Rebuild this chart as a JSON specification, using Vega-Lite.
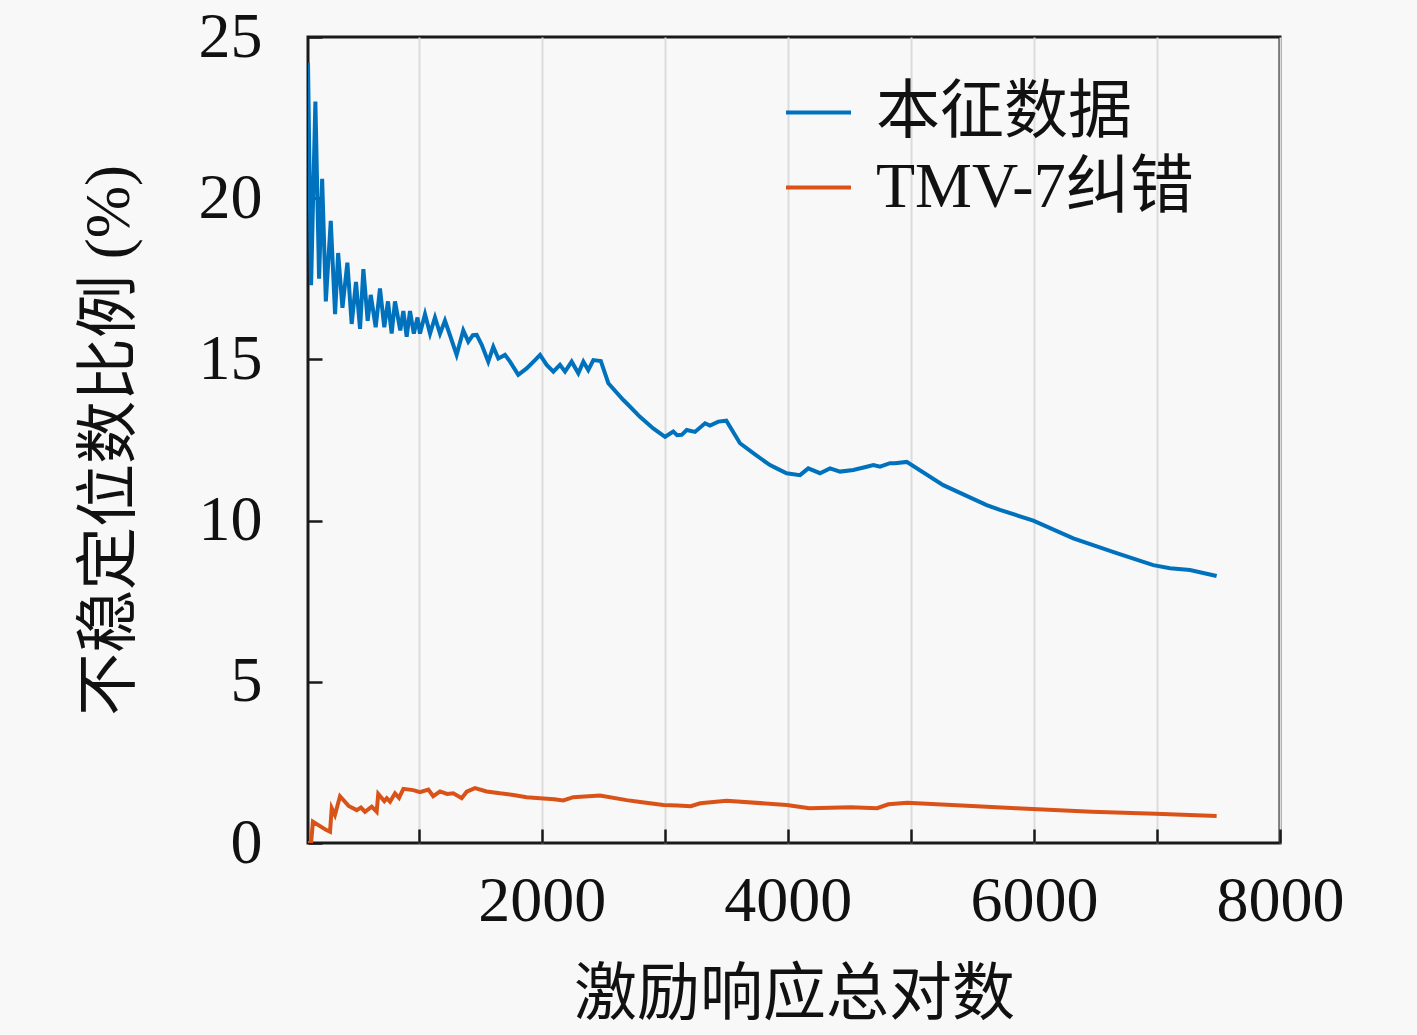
{
  "$schema": "https://vega.github.io/schema/vega-lite/v6.json",
  "autosize": {"type": "none"},
  "padding": {"left": 308, "top": 37, "right": 137, "bottom": 192},
  "width": 972,
  "height": 806,
  "background": "#f8f8f8",
  "config": {
    "view": {"fill": "#f8f8f8", "stroke": "#1a1a1a", "strokeWidth": 3},
    "font": "Liberation Serif, Noto Sans CJK SC",
    "axis": {
      "domain": false,
      "labelFont": "Liberation Serif",
      "labelFontSize": 64,
      "labelColor": "#111111",
      "titleFont": "Liberation Serif, Noto Sans CJK SC",
      "titleFontSize": 63,
      "titleFontWeight": "normal",
      "titleColor": "#111111",
      "tickColor": "#1a1a1a",
      "tickWidth": 2.5,
      "tickSize": -14
    },
    "legend": {
      "labelFont": "Liberation Serif, Noto Sans CJK SC",
      "labelFontSize": 64,
      "labelColor": "#111111",
      "labelLimit": 0
    }
  },
  "datasets": {
    "blue": [
      {"n": 100, "r": 24.2}, {"n": 125, "r": 17.3}, {"n": 160, "r": 23.0}, {"n": 190, "r": 17.5},
      {"n": 215, "r": 20.6}, {"n": 245, "r": 16.8}, {"n": 285, "r": 19.3}, {"n": 320, "r": 16.4},
      {"n": 345, "r": 18.3}, {"n": 380, "r": 16.6}, {"n": 420, "r": 18.0}, {"n": 455, "r": 16.1},
      {"n": 490, "r": 17.4}, {"n": 523, "r": 15.95}, {"n": 550, "r": 17.8}, {"n": 585, "r": 16.2},
      {"n": 610, "r": 17.0}, {"n": 650, "r": 16.0}, {"n": 685, "r": 17.2}, {"n": 720, "r": 16.0},
      {"n": 750, "r": 16.8}, {"n": 780, "r": 15.8}, {"n": 807, "r": 16.8}, {"n": 850, "r": 15.9},
      {"n": 875, "r": 16.5}, {"n": 902, "r": 15.7}, {"n": 929, "r": 16.5}, {"n": 960, "r": 15.8},
      {"n": 990, "r": 16.3}, {"n": 1010, "r": 15.8}, {"n": 1051, "r": 16.4}, {"n": 1092, "r": 15.8},
      {"n": 1132, "r": 16.3}, {"n": 1173, "r": 15.8}, {"n": 1213, "r": 16.2}, {"n": 1254, "r": 15.75},
      {"n": 1308, "r": 15.14}, {"n": 1362, "r": 15.9}, {"n": 1403, "r": 15.55}, {"n": 1440, "r": 15.75},
      {"n": 1471, "r": 15.76}, {"n": 1512, "r": 15.45}, {"n": 1565, "r": 14.93}, {"n": 1606, "r": 15.39},
      {"n": 1647, "r": 15.03}, {"n": 1701, "r": 15.14}, {"n": 1742, "r": 14.93}, {"n": 1809, "r": 14.52},
      {"n": 1877, "r": 14.72}, {"n": 1945, "r": 14.98}, {"n": 1986, "r": 15.14}, {"n": 2040, "r": 14.83},
      {"n": 2094, "r": 14.62}, {"n": 2148, "r": 14.83}, {"n": 2189, "r": 14.62}, {"n": 2243, "r": 14.93},
      {"n": 2297, "r": 14.57}, {"n": 2338, "r": 14.93}, {"n": 2378, "r": 14.67}, {"n": 2419, "r": 14.98},
      {"n": 2480, "r": 14.95}, {"n": 2541, "r": 14.26}, {"n": 2663, "r": 13.74}, {"n": 2700, "r": 13.6},
      {"n": 2798, "r": 13.22}, {"n": 2906, "r": 12.86}, {"n": 3002, "r": 12.6}, {"n": 3069, "r": 12.76},
      {"n": 3100, "r": 12.65}, {"n": 3137, "r": 12.66}, {"n": 3178, "r": 12.81}, {"n": 3245, "r": 12.75},
      {"n": 3327, "r": 13.02}, {"n": 3367, "r": 12.95}, {"n": 3435, "r": 13.07}, {"n": 3500, "r": 13.1},
      {"n": 3611, "r": 12.4}, {"n": 3719, "r": 12.09}, {"n": 3855, "r": 11.72}, {"n": 3909, "r": 11.62},
      {"n": 3990, "r": 11.47}, {"n": 4099, "r": 11.41}, {"n": 4166, "r": 11.62}, {"n": 4261, "r": 11.47},
      {"n": 4343, "r": 11.62}, {"n": 4424, "r": 11.52}, {"n": 4532, "r": 11.57}, {"n": 4641, "r": 11.67},
      {"n": 4695, "r": 11.72}, {"n": 4749, "r": 11.67}, {"n": 4830, "r": 11.78}, {"n": 4871, "r": 11.78},
      {"n": 4966, "r": 11.82}, {"n": 5263, "r": 11.1}, {"n": 5616, "r": 10.48}, {"n": 5724, "r": 10.33},
      {"n": 5995, "r": 10.0}, {"n": 6320, "r": 9.45}, {"n": 6672, "r": 8.99}, {"n": 6970, "r": 8.62},
      {"n": 7106, "r": 8.52}, {"n": 7268, "r": 8.47}, {"n": 7485, "r": 8.28}
    ],
    "orange": [
      {"n": 100, "r": 0.0}, {"n": 125, "r": 0.0}, {"n": 140, "r": 0.66}, {"n": 250, "r": 0.4},
      {"n": 279, "r": 0.35}, {"n": 293, "r": 1.08}, {"n": 319, "r": 0.87}, {"n": 360, "r": 1.45},
      {"n": 430, "r": 1.15}, {"n": 496, "r": 1.02}, {"n": 530, "r": 1.1}, {"n": 563, "r": 0.97},
      {"n": 618, "r": 1.13}, {"n": 658, "r": 0.97}, {"n": 671, "r": 1.52}, {"n": 720, "r": 1.3},
      {"n": 740, "r": 1.39}, {"n": 767, "r": 1.28}, {"n": 807, "r": 1.54}, {"n": 840, "r": 1.4},
      {"n": 875, "r": 1.68}, {"n": 956, "r": 1.64}, {"n": 1010, "r": 1.58}, {"n": 1078, "r": 1.66},
      {"n": 1118, "r": 1.45}, {"n": 1173, "r": 1.6}, {"n": 1230, "r": 1.52}, {"n": 1281, "r": 1.54},
      {"n": 1349, "r": 1.39}, {"n": 1390, "r": 1.59}, {"n": 1457, "r": 1.7}, {"n": 1552, "r": 1.6},
      {"n": 1660, "r": 1.54}, {"n": 1769, "r": 1.49}, {"n": 1877, "r": 1.42}, {"n": 1986, "r": 1.39},
      {"n": 2100, "r": 1.36}, {"n": 2175, "r": 1.32}, {"n": 2256, "r": 1.42}, {"n": 2473, "r": 1.47},
      {"n": 2690, "r": 1.33}, {"n": 2800, "r": 1.27}, {"n": 2988, "r": 1.18}, {"n": 3104, "r": 1.16},
      {"n": 3211, "r": 1.14}, {"n": 3288, "r": 1.23}, {"n": 3502, "r": 1.31}, {"n": 3991, "r": 1.18},
      {"n": 4175, "r": 1.08}, {"n": 4512, "r": 1.11}, {"n": 4725, "r": 1.08}, {"n": 4817, "r": 1.2},
      {"n": 4970, "r": 1.25}, {"n": 5857, "r": 1.08}, {"n": 6469, "r": 0.97}, {"n": 6989, "r": 0.91},
      {"n": 7485, "r": 0.84}
    ]
  },
  "data": {"name": "blue"},
  "transform": [
    {"calculate": "'本征数据'", "as": "series"}
  ],
  "encoding": {
    "x": {
      "field": "n",
      "type": "quantitative",
      "scale": {"domain": [100, 8000], "nice": false, "zero": false},
      "axis": {
        "title": "激励响应总对数",
        "titlePadding": 30,
        "values": [1000, 2000, 3000, 4000, 5000, 6000, 7000, 8000],
        "format": "d",
        "labelExpr": "datum.value % 2000 == 0 ? datum.label : ''",
        "labelPadding": 40,
        "labelFlush": false,
        "labelOverlap": false,
        "grid": true,
        "gridColor": "#dcdcdc",
        "gridWidth": 2
      }
    },
    "y": {
      "field": "r",
      "type": "quantitative",
      "scale": {"domain": [0, 25], "nice": false},
      "axis": {
        "title": "不稳定位数比例 (%)",
        "titlePadding": 57,
        "values": [0, 5, 10, 15, 20, 25],
        "labelPadding": 60,
        "labelFlush": false,
        "grid": false
      }
    }
  },
  "layer": [
    {
      "data": {"name": "orange"},
      "transform": [{"calculate": "'TMV-7纠错'", "as": "series"}],
      "mark": {"type": "line", "strokeWidth": 4, "clip": true},
      "encoding": {
        "color": {
          "field": "series",
          "type": "nominal",
          "scale": {"domain": ["本征数据", "TMV-7纠错"], "range": ["#0072BD", "#D95319"]},
          "legend": {
            "title": null,
            "orient": "none",
            "legendX": 476,
            "legendY": 41,
            "symbolType": "stroke",
            "symbolSize": 4225,
            "symbolStrokeWidth": 4,
            "labelOffset": 23,
            "rowPadding": 8
          }
        }
      }
    },
    {
      "mark": {"type": "line", "strokeWidth": 4, "clip": true},
      "encoding": {
        "color": {"field": "series", "type": "nominal"}
      }
    }
  ]
}
